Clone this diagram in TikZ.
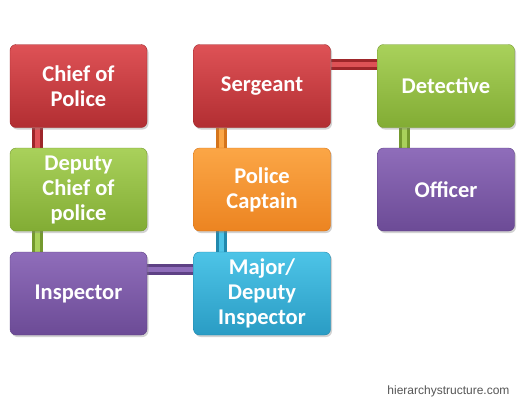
\documentclass[tikz,border=0pt]{standalone}
\usepackage{fontspec}
\setmainfont{Carlito}
\newfontfamily\wmfont{Liberation Sans}
\usetikzlibrary{backgrounds,shadows}
\definecolor{redT}{HTML}{DE5256}\definecolor{redB}{HTML}{B22E32}\definecolor{redE}{HTML}{9E262A}
\definecolor{grnT}{HTML}{A9D15B}\definecolor{grnB}{HTML}{82AC34}\definecolor{grnE}{HTML}{74992E}
\definecolor{purT}{HTML}{8F6DBA}\definecolor{purB}{HTML}{6C4B96}\definecolor{purE}{HTML}{5E4185}
\definecolor{orgT}{HTML}{FBA646}\definecolor{orgB}{HTML}{EC8421}\definecolor{orgE}{HTML}{D5741A}
\definecolor{cynT}{HTML}{4DC4E7}\definecolor{cynB}{HTML}{2A9CC4}\definecolor{cynE}{HTML}{2188AD}
\definecolor{wm}{HTML}{555555}
\tikzset{
  box/.style={rounded corners=6pt, minimum width=137pt, minimum height=83pt,
    text width=134pt, align=flush center, text=white, inner sep=0pt,
    font=\fontsize{22.5}{25}\selectfont\bfseries,
    drop shadow={opacity=0.35, shadow xshift=1.5pt, shadow yshift=-2pt}},
  redbox/.style={box, top color=redT, bottom color=redB, draw=redE},
  grnbox/.style={box, top color=grnT, bottom color=grnB, draw=grnE},
  purbox/.style={box, top color=purT, bottom color=purB, draw=purE},
  orgbox/.style={box, top color=orgT, bottom color=orgB, draw=orgE},
  cynbox/.style={box, top color=cynT, bottom color=cynB, draw=cynE},
  pipe/.style={line width=3pt, double distance=5pt},
  redpipe/.style={pipe, draw=redE, double=redT},
  grnpipe/.style={pipe, draw=grnE, double=grnT},
  purpipe/.style={pipe, draw=purE, double=purT},
  orgpipe/.style={pipe, draw=orgE, double=orgT},
  cynpipe/.style={pipe, draw=cynE, double=cynT},
}
\begin{document}
\begin{tikzpicture}[x=1pt,y=-1pt]
\begin{scope}[on background layer]
\fill[white] (0,0) rectangle (524,400);
\end{scope}
\useasboundingbox (0,0) rectangle (524,400);
\node[redbox] (chief) at (78.5,86) {Chief of\\Police};
\node[grnbox] (deputy) at (78.5,189.5) {Deputy\\Chief of\\police};
\node[purbox] (insp) at (78.5,293.5) {Inspector};
\node[redbox] (serg) at (262,86) {Sergeant};
\node[orgbox] (capt) at (262,189.5) {Police\\Captain};
\node[cynbox] (major) at (262,293.5) {Major/\\Deputy\\Inspector};
\node[grnbox] (det) at (446,86) {Detective};
\node[purbox] (off) at (446,189.5) {Officer};
\node[text=wm, font=\wmfont\fontsize{12}{14}\selectfont, anchor=east] (wmark) at (513,391) {hierarchystructure.com};
\begin{scope}[on background layer]
\draw[redpipe] ([xshift=27.5pt]chief.south west) -- ([xshift=27.5pt]deputy.north west);
\draw[grnpipe] ([xshift=27.5pt]deputy.south west) -- ([xshift=27.5pt]insp.north west);
\draw[purpipe] ([yshift=-18pt]insp.north east) -- ([yshift=-18pt]major.north west);
\draw[cynpipe] ([xshift=28pt]major.north west) -- ([xshift=28pt]capt.south west);
\draw[orgpipe] ([xshift=28pt]capt.north west) -- ([xshift=28pt]serg.south west);
\draw[redpipe] ([yshift=-20pt]serg.north east) -- ([yshift=-20pt]det.north west);
\draw[grnpipe] ([xshift=27pt]det.south west) -- ([xshift=27pt]off.north west);
\end{scope}
\end{tikzpicture}
\end{document}
